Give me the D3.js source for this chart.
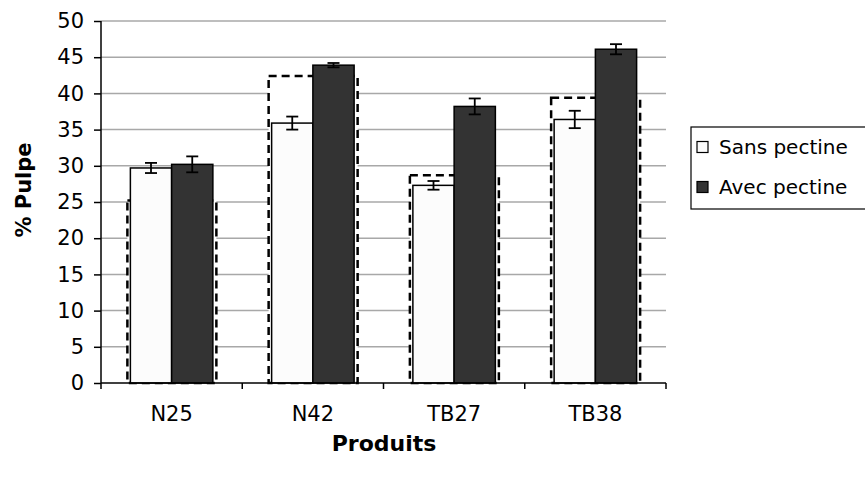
<!DOCTYPE html>
<html><head><meta charset="utf-8">
<script src="https://cdn.jsdelivr.net/npm/d3@7"></script>
<style>
body{margin:0;background:#fff;}
text{font-family:"DejaVu Sans",sans-serif;}
</style></head>
<body><svg id="c" width="865" height="481"></svg>
<script>
const categories = ["N25","N42","TB27","TB38"];
const seriesNames = ["Sans pectine","Avec pectine"];
const sansPectine = [29.7, 35.9, 27.3, 36.4];
const sansPectineErr = [0.7, 0.9, 0.6, 1.2];
const avecPectine = [30.2, 43.9, 38.2, 46.1];
const avecPectineErr = [1.1, 0.3, 1.1, 0.7];
const reference = [25.2, 42.4, 28.7, 39.4];
const yTicks = [0,5,10,15,20,25,30,35,40,45,50];

const svg = d3.select("#c");
const m = {l:101, r:666, t:21, b:383};
const x = d3.scaleBand().domain(categories).range([m.l, m.r]).paddingInner(0.416).paddingOuter(0.208);
const y = d3.scaleLinear().domain([0,50]).range([m.b, m.t]);
const bw = x.bandwidth()/2;

// gridlines
svg.append("g").selectAll("line").data(yTicks.slice(1)).join("line")
  .attr("x1", m.l).attr("x2", m.r).attr("y1", d=>y(d)).attr("y2", d=>y(d))
  .attr("stroke", "#a8a8a8").attr("stroke-width", 1.5);

// reference dashed boxes
svg.append("g").selectAll("rect").data(reference).join("rect")
  .attr("x", (d,i)=>x(categories[i]) - 3)
  .attr("width", x.bandwidth() + 6.5)
  .attr("y", d=>y(d)).attr("height", d=>y(0)-y(d))
  .attr("fill", "#fff").attr("stroke", "#000").attr("stroke-width", 2.5)
  .attr("stroke-dasharray", "8,5");

const series = [
  {vals: sansPectine, err: sansPectineErr, fill: "#fcfcfc", off: 0},
  {vals: avecPectine, err: avecPectineErr, fill: "#333333", off: 1}
];
series.forEach(s => {
  const g = svg.append("g");
  g.selectAll("rect").data(s.vals).join("rect")
    .attr("x", (d,i)=>x(categories[i]) + s.off*bw)
    .attr("width", bw)
    .attr("y", d=>y(d)).attr("height", d=>y(0)-y(d))
    .attr("fill", s.fill).attr("stroke", "#000").attr("stroke-width", 1.5);
  const eg = svg.append("g").attr("stroke", "#000").attr("stroke-width", 1.8);
  s.vals.forEach((v,i) => {
    const cx = x(categories[i]) + s.off*bw + bw/2;
    const e = s.err[i];
    eg.append("line").attr("x1", cx).attr("x2", cx).attr("y1", y(v+e)).attr("y2", y(v-e));
    eg.append("line").attr("x1", cx-6).attr("x2", cx+6).attr("y1", y(v+e)).attr("y2", y(v+e));
    eg.append("line").attr("x1", cx-6).attr("x2", cx+6).attr("y1", y(v-e)).attr("y2", y(v-e));
  });
});

// y axis
const ya = svg.append("g").attr("transform", `translate(${m.l},0)`)
  .call(d3.axisLeft(y).tickValues(yTicks).tickSize(7).tickPadding(10));
ya.select(".domain").attr("stroke-width", 1.5).attr("d", `M-0,${m.t}V${m.b}`);
ya.selectAll(".tick line").attr("stroke-width", 1.5);
ya.selectAll("text").attr("font-size", 21).attr("font-family", "DejaVu Sans").attr("fill", "#000");

// x axis
const xs = d3.scalePoint().domain(d3.range(categories.length+1)).range([m.l, m.r]);
const xa = svg.append("g").attr("transform", `translate(0,${m.b})`);
xa.append("line").attr("x1", m.l).attr("x2", m.r).attr("stroke", "#000").attr("stroke-width", 1.5);
xa.selectAll(".tk").data(d3.range(categories.length+1)).join("line")
  .attr("x1", d=>xs(d)).attr("x2", d=>xs(d)).attr("y1", 0).attr("y2", 6)
  .attr("stroke", "#000").attr("stroke-width", 1.5);
xa.selectAll("text").data(categories).join("text")
  .attr("x", d=>x(d)+x.bandwidth()/2).attr("y", 38)
  .attr("text-anchor", "middle").attr("font-size", 21).text(d=>d);

// axis titles
svg.append("text").attr("transform", "translate(31,190) rotate(-90)")
  .attr("text-anchor", "middle").attr("font-size", 21).attr("font-weight", "bold").text("% Pulpe");
svg.append("text").attr("x", 384).attr("y", 451)
  .attr("text-anchor", "middle").attr("font-size", 22).attr("font-weight", "bold").text("Produits");

// legend
const lg = svg.append("g");
lg.append("rect").attr("x", 691).attr("y", 127).attr("width", 190).attr("height", 82)
  .attr("fill", "#fff").attr("stroke", "#000").attr("stroke-width", 1.2);
seriesNames.forEach((n,i) => {
  const cy = 147 + i*40;
  lg.append("rect").attr("x", 697).attr("y", cy-5.5).attr("width", 11).attr("height", 11)
    .attr("fill", series[i].fill).attr("stroke", "#000").attr("stroke-width", 1.2);
  lg.append("text").attr("x", 719).attr("y", cy+7).attr("font-size", 20).text(n);
});
</script></body></html>
